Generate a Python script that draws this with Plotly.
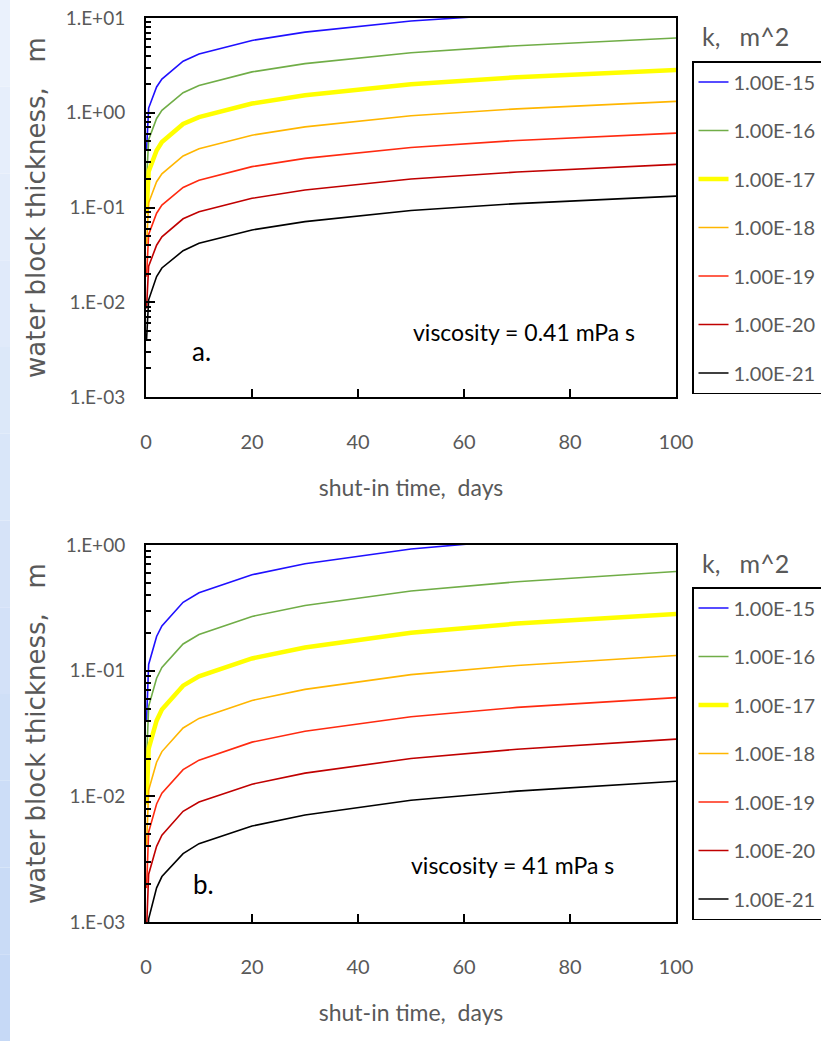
import plotly.graph_objects as go
from plotly.subplots import make_subplots

# ---------------- data ----------------
days = [0.1, 0.5, 2, 3, 7, 10, 20, 30, 50, 70, 100]
k_labels = ["1.00E-15", "1.00E-16", "1.00E-17", "1.00E-18", "1.00E-19", "1.00E-20", "1.00E-21"]

# viscosity = 0.41 mPa s
top_k15 = [0.40, 1.12, 1.87, 2.27, 3.50, 4.17, 5.80, 7.10, 9.30, 11.0, 13.2]
top_k16 = [0.19, 0.52, 0.87, 1.06, 1.63, 1.94, 2.70, 3.30, 4.30, 5.10, 6.15]
top_k17 = [0.086, 0.24, 0.40, 0.49, 0.76, 0.90, 1.25, 1.53, 2.00, 2.37, 2.83]
top_k18 = [0.040, 0.112, 0.187, 0.227, 0.35, 0.417, 0.58, 0.71, 0.93, 1.10, 1.32]
top_k19 = [0.0186, 0.052, 0.087, 0.106, 0.163, 0.194, 0.27, 0.33, 0.43, 0.51, 0.61]
top_k20 = [0.0086, 0.024, 0.040, 0.049, 0.076, 0.090, 0.125, 0.153, 0.20, 0.237, 0.285]
top_k21 = [0.0040, 0.0106, 0.0187, 0.023, 0.035, 0.042, 0.058, 0.071, 0.093, 0.110, 0.132]

# viscosity = 41 mPa s
bot_k15 = [0.040, 0.112, 0.187, 0.227, 0.350, 0.417, 0.580, 0.710, 0.930, 1.10, 1.32]
bot_k16 = [0.019, 0.052, 0.087, 0.106, 0.163, 0.194, 0.270, 0.330, 0.430, 0.510, 0.615]
bot_k17 = [0.0086, 0.024, 0.040, 0.049, 0.076, 0.090, 0.125, 0.153, 0.200, 0.237, 0.283]
bot_k18 = [0.0040, 0.0112, 0.0187, 0.0227, 0.035, 0.0417, 0.058, 0.071, 0.093, 0.110, 0.132]
bot_k19 = [0.00186, 0.0052, 0.0087, 0.0106, 0.0163, 0.0194, 0.027, 0.033, 0.043, 0.051, 0.061]
bot_k20 = [0.00086, 0.0024, 0.0040, 0.0049, 0.0076, 0.0090, 0.0125, 0.0153, 0.020, 0.0237, 0.0285]
bot_k21 = [0.00040, 0.00106, 0.00187, 0.0023, 0.0035, 0.0042, 0.0058, 0.0071, 0.0093, 0.0110, 0.0132]

top_series = [top_k15, top_k16, top_k17, top_k18, top_k19, top_k20, top_k21]
bot_series = [bot_k15, bot_k16, bot_k17, bot_k18, bot_k19, bot_k20, bot_k21]

top_ytickvals = [1e-3, 1e-2, 1e-1, 1e0, 1e1]
top_yticktext = ["1.E-03", "1.E-02", "1.E-01", "1.E+00", "1.E+01"]
bot_ytickvals = [1e-3, 1e-2, 1e-1, 1e0]
bot_yticktext = ["1.E-03", "1.E-02", "1.E-01", "1.E+00"]
xtickvals = [0, 20, 40, 60, 80, 100]

# ---------------- styles ----------------
colors = ["#1f10ff", "#70ad47", "#ffff00", "#ffb600", "#ff2a10", "#c00000", "#000000"]
widths = [1.6, 1.6, 4.5, 1.6, 1.6, 1.6, 1.6]

W, H = 821, 1041
L, R, T, B = 146, 145, 18, 119
ph = H - T - B
pw = W - L - R
top_dom = [(922 - 397) / ph, 1.0]
bot_dom = [0.0, (922 - 545) / ph]

LBL = "Lato, Roboto, sans-serif"
GRAY = "#595959"


def px_x(px):
    return (px - L) / pw


def px_y(py):
    return (H - B - py) / ph


fig = make_subplots(rows=2, cols=1)

for i, lab in enumerate(k_labels):
    fig.add_trace(go.Scatter(x=days, y=top_series[i], mode="lines", name=lab,
                             line=dict(color=colors[i], width=widths[i]),
                             legend="legend", legendgroup="t" + str(i)), row=1, col=1)
for i, lab in enumerate(k_labels):
    fig.add_trace(go.Scatter(x=days, y=bot_series[i], mode="lines", name=lab,
                             line=dict(color=colors[i], width=widths[i]),
                             legend="legend2", legendgroup="b" + str(i)), row=2, col=1)


def minor_vals(lo, hi):
    out = []
    for e in range(lo, hi):
        for m in range(2, 10):
            out.append(m * 10 ** e)
    return out


common_x = dict(range=[0, 100], tickvals=xtickvals, ticks="inside", ticklen=8, tickwidth=1.5,
                tickcolor="black", showline=True, linecolor="black", linewidth=2, mirror=True,
                showgrid=False, zeroline=False, tickfont=dict(family=LBL, size=20, color=GRAY),
                ticklabelstandoff=26,
                title=dict(text="shut-in time,  days", font=dict(family=LBL, size=23, color=GRAY),
                           standoff=28))
fig.update_xaxes(**common_x, domain=[0, 1])

ytitle = "water block thickness,\u00a0\u00a0\u00a0m" + "\u00a0" * 4
common_y = dict(type="log", ticks="inside", ticklen=9, tickwidth=2, tickcolor="black",
                showline=True, linecolor="black", linewidth=2, mirror=True, showgrid=False,
                zeroline=False, tickfont=dict(family=LBL, size=19, color=GRAY),
                ticklabelstandoff=15,
                title=dict(text=ytitle, font=dict(family="DejaVu Sans, Verdana, sans-serif",
                                                  size=26, color=GRAY), standoff=13))
fig.update_yaxes(**common_y, range=[-3, 1], tickvals=top_ytickvals, ticktext=top_yticktext,
                 minor=dict(tickvals=minor_vals(-3, 1), ticks="inside", ticklen=5, tickwidth=2,
                            tickcolor="black"),
                 domain=top_dom, row=1, col=1)
fig.update_yaxes(**common_y, range=[-3, 0], tickvals=bot_ytickvals, ticktext=bot_yticktext,
                 minor=dict(tickvals=minor_vals(-3, 0), ticks="inside", ticklen=5, tickwidth=2,
                            tickcolor="black"),
                 domain=bot_dom, row=2, col=1)

legend_common = dict(bgcolor="white", bordercolor="black", borderwidth=1.5,
                     font=dict(family=LBL, size=20, color=GRAY), tracegroupgap=19.5,
                     xanchor="left", yanchor="top", itemwidth=30)
fig.update_layout(
    legend=dict(**legend_common, x=px_x(692), y=px_y(61)),
    legend2=dict(**legend_common, x=px_x(692), y=px_y(587)),
)

ann_font = dict(family=LBL, size=23, color="black")


def ann(text, x, y, font):
    return dict(text=text, x=px_x(x), y=px_y(y), xref="paper", yref="paper",
                xanchor="center", yanchor="middle", showarrow=False, font=font)


ktitle = "k,\u00a0\u00a0\u00a0m^2"
annotations = [
    ann(ktitle, 745, 36, dict(family=LBL, size=25, color=GRAY)),
    ann(ktitle, 745, 563, dict(family=LBL, size=25, color=GRAY)),
    ann("a.", 201, 351, dict(family=LBL, size=26, color="black")),
    ann("b.", 203, 884, dict(family=LBL, size=26, color="black")),
    ann("viscosity = 0.41 mPa s", 524, 332, ann_font),
    ann("viscosity = 41 mPa s", 512, 865, ann_font),
]

# light blue strip at the left edge (decoration of the original slide)
shapes = []
nb = 12
for j in range(nb):
    y_top = j * H / nb
    y_bot = (j + 1) * H / nb
    t = j / (nb - 1)
    r = int(234 - 36 * t)
    g = int(241 - 24 * t)
    b = int(252 - 6 * t)
    shapes.append(dict(type="rect", xref="paper", yref="paper",
                       x0=px_x(0), x1=px_x(10), y0=px_y(y_bot), y1=px_y(y_top),
                       line=dict(width=0), fillcolor=f"rgb({r},{g},{b})", layer="below"))

fig.update_layout(width=W, height=H, margin=dict(l=L, r=R, t=T, b=B, autoexpand=False),
                  plot_bgcolor="white", paper_bgcolor="white", showlegend=True,
                  annotations=annotations, shapes=shapes)

fig.write_html("out.html", config={"displayModeBar": False},
               post_script="document.body.style.margin='0';")
